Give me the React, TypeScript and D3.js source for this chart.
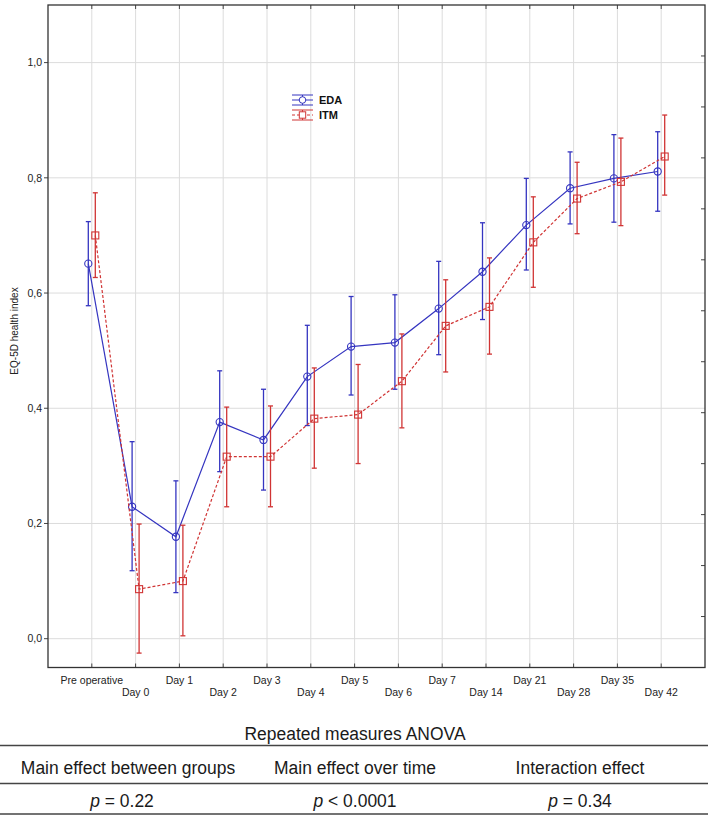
import React from "react";
import * as d3 from "d3";

const categories = ["Pre operative", "Day 0", "Day 1", "Day 2", "Day 3", "Day 4", "Day 5", "Day 6", "Day 7", "Day 14", "Day 21", "Day 28", "Day 35", "Day 42"];
const edaMean = [0.651, 0.229, 0.177, 0.376, 0.345, 0.455, 0.507, 0.514, 0.573, 0.637, 0.718, 0.782, 0.799, 0.811];
const edaLow = [0.578, 0.118, 0.080, 0.290, 0.258, 0.370, 0.423, 0.433, 0.493, 0.554, 0.640, 0.720, 0.723, 0.742];
const edaHigh = [0.724, 0.342, 0.274, 0.465, 0.433, 0.544, 0.594, 0.597, 0.655, 0.722, 0.799, 0.845, 0.875, 0.880];
const itmMean = [0.700, 0.086, 0.100, 0.316, 0.316, 0.382, 0.389, 0.447, 0.543, 0.576, 0.688, 0.764, 0.793, 0.837];
const itmLow = [0.627, -0.025, 0.005, 0.229, 0.229, 0.296, 0.304, 0.366, 0.463, 0.494, 0.610, 0.703, 0.717, 0.770];
const itmHigh = [0.774, 0.199, 0.197, 0.402, 0.404, 0.470, 0.476, 0.529, 0.623, 0.661, 0.767, 0.827, 0.869, 0.909];
const yTicks = [0, 0.2, 0.4, 0.6, 0.8, 1.0];
const seriesNames = ["EDA", "ITM"];
const tableTitle = "Repeated measures ANOVA";
const tableHeaders = ["Main effect between groups", "Main effect over time", "Interaction effect"];
const tablePrefix = ["=", "<", "="];
const tableValues = ["0.22", "0.0001", "0.34"];

const W = 708;
const H = 815;
const L = 48, R = 705, T = 5, B = 667.5;
const BLUE = "#3535c0";
const RED = "#d03434";
const FONT = "'Liberation Sans', Arial, sans-serif";
const NARROW = "'Liberation Sans Narrow', 'Arial Narrow', 'Liberation Sans', Arial, sans-serif";

function NarrowText({ x, y, children }: { x: number; y: number; children: React.ReactNode }) {
  return (
    <text transform={`translate(${x},${y}) scale(0.92,1)`} textAnchor="middle" fontFamily={NARROW} fontSize={19} fill="#1a1a1a">
      {children}
    </text>
  );
}

export default function App() {
  const x = d3.scaleLinear().domain([-1, categories.length]).range([L, R]);
  const y = d3.scaleLinear().domain([-0.05, 1.1]).range([B, T]);
  const yRight = d3.scaleLinear().domain([0, 13]).range([B, T]);
  const fmt = (v: number) => d3.format(".1f")(v).replace(".", ",");

  const series = [
    { name: seriesNames[0], mean: edaMean, low: edaLow, high: edaHigh, color: BLUE, dx: -3.5, dash: undefined as string | undefined, marker: "circle" },
    { name: seriesNames[1], mean: itmMean, low: itmLow, high: itmHigh, color: RED, dx: 3.5, dash: "3,2", marker: "square" },
  ];

  return (
    <>
      <style>{"body{margin:0;background:#fff}"}</style>
      <svg width={W} height={H} style={{ display: "block" }}>
        <rect x={0} y={0} width={W} height={H} fill="#fff" />
        {/* grid */}
        {categories.map((c, i) => (
          <line key={"vg" + i} x1={x(i)} x2={x(i)} y1={T} y2={B} stroke="#dcdcdc" strokeWidth={1} />
        ))}
        {yTicks.map((t) => (
          <line key={"hg" + t} x1={L} x2={R} y1={y(t)} y2={y(t)} stroke="#dcdcdc" strokeWidth={1} />
        ))}
        {/* ticks */}
        {categories.map((c, i) => (
          <g key={"xt" + i}>
            <line x1={x(i)} x2={x(i)} y1={B} y2={B - 4} stroke="#444" />
            <line x1={x(i)} x2={x(i)} y1={T} y2={T + 4} stroke="#444" />
          </g>
        ))}
        {yTicks.map((t) => (
          <line key={"yt" + t} x1={L - 4} x2={L} y1={y(t)} y2={y(t)} stroke="#444" />
        ))}
        {yRight.ticks(13).filter((t) => t > 0 && t < 13).map((t) => (
          <line key={"yr" + t} x1={R - 4} x2={R} y1={yRight(t)} y2={yRight(t)} stroke="#444" />
        ))}
        {/* frame */}
        <rect x={L} y={T} width={R - L} height={B - T} fill="none" stroke="#333" strokeWidth={1.3} />
        {/* y labels */}
        {yTicks.map((t) => (
          <text key={"yl" + t} x={L - 6} y={y(t)} dy="0.35em" textAnchor="end" fontFamily={FONT} fontSize={10.5} fill="#222">
            {fmt(t)}
          </text>
        ))}
        <text transform={`translate(18,331) rotate(-90)`} textAnchor="middle" fontFamily={FONT} fontSize={10} fill="#222">
          EQ-5D health index
        </text>
        {/* x labels */}
        {categories.map((c, i) => (
          <text key={"xl" + i} x={x(i)} y={i % 2 === 0 ? 684 : 696} textAnchor="middle" fontFamily={FONT} fontSize={10.5} fill="#222">
            {c}
          </text>
        ))}
        {/* series */}
        {series.map((s) => {
          const line = d3.line<number>().x((_, i) => x(i) + s.dx).y((v) => y(v));
          return (
            <g key={s.name}>
              <path d={line(s.mean) || ""} fill="none" stroke={s.color} strokeWidth={1.2} strokeDasharray={s.dash} />
              {s.mean.map((m, i) => {
                const cx = x(i) + s.dx;
                return (
                  <g key={i}>
                    <line x1={cx} x2={cx} y1={y(s.low[i])} y2={y(s.high[i])} stroke={s.color} strokeWidth={1.3} />
                    <line x1={cx - 2.5} x2={cx + 2.5} y1={y(s.low[i])} y2={y(s.low[i])} stroke={s.color} strokeWidth={1.3} />
                    <line x1={cx - 2.5} x2={cx + 2.5} y1={y(s.high[i])} y2={y(s.high[i])} stroke={s.color} strokeWidth={1.3} />
                    {s.marker === "circle" ? (
                      <circle cx={cx} cy={y(m)} r={3.6} fill="none" stroke={s.color} strokeWidth={1.1} />
                    ) : (
                      <rect x={cx - 3.5} y={y(m) - 3.5} width={7} height={7} fill="none" stroke={s.color} strokeWidth={1.1} />
                    )}
                  </g>
                );
              })}
            </g>
          );
        })}
        {/* legend */}
        {series.map((s, k) => {
          const cy = 100 + k * 15;
          const lx0 = 292, lx1 = 313, mx = 302.5;
          return (
            <g key={"lg" + k}>
              <line x1={lx0} x2={lx1} y1={cy - 5} y2={cy - 5} stroke={s.color} strokeWidth={1} />
              <line x1={lx0} x2={lx1} y1={cy} y2={cy} stroke={s.color} strokeWidth={1} strokeDasharray={s.dash} />
              <line x1={lx0} x2={lx1} y1={cy + 5} y2={cy + 5} stroke={s.color} strokeWidth={1} />
              <line x1={mx} x2={mx} y1={cy - 5} y2={cy + 5} stroke={s.color} strokeWidth={1} />
              {s.marker === "circle" ? (
                <circle cx={mx} cy={cy} r={3.3} fill="#fff" stroke={s.color} strokeWidth={1} />
              ) : (
                <rect x={mx - 3.2} y={cy - 3.2} width={6.4} height={6.4} fill="#fff" stroke={s.color} strokeWidth={1} />
              )}
              <text x={319} y={cy} dy="0.36em" fontFamily={FONT} fontSize={11} fontWeight="bold" fill="#111">
                {s.name}
              </text>
            </g>
          );
        })}
        {/* table */}
        <NarrowText x={355} y={740}>{tableTitle}</NarrowText>
        <line x1={0} x2={W} y1={745.5} y2={745.5} stroke="#444" strokeWidth={1.3} />
        {tableHeaders.map((h, i) => (
          <NarrowText key={"th" + i} x={[128, 355, 580][i]} y={774}>{h}</NarrowText>
        ))}
        <line x1={0} x2={W} y1={783.5} y2={783.5} stroke="#444" strokeWidth={1.3} />
        {tableValues.map((v, i) => (
          <NarrowText key={"tv" + i} x={[122, 355, 580][i]} y={807}>
            <tspan fontStyle="italic">p</tspan>
            {" " + tablePrefix[i] + " " + v}
          </NarrowText>
        ))}
        <line x1={0} x2={W} y1={814} y2={814} stroke="#444" strokeWidth={1.3} />
      </svg>
    </>
  );
}
